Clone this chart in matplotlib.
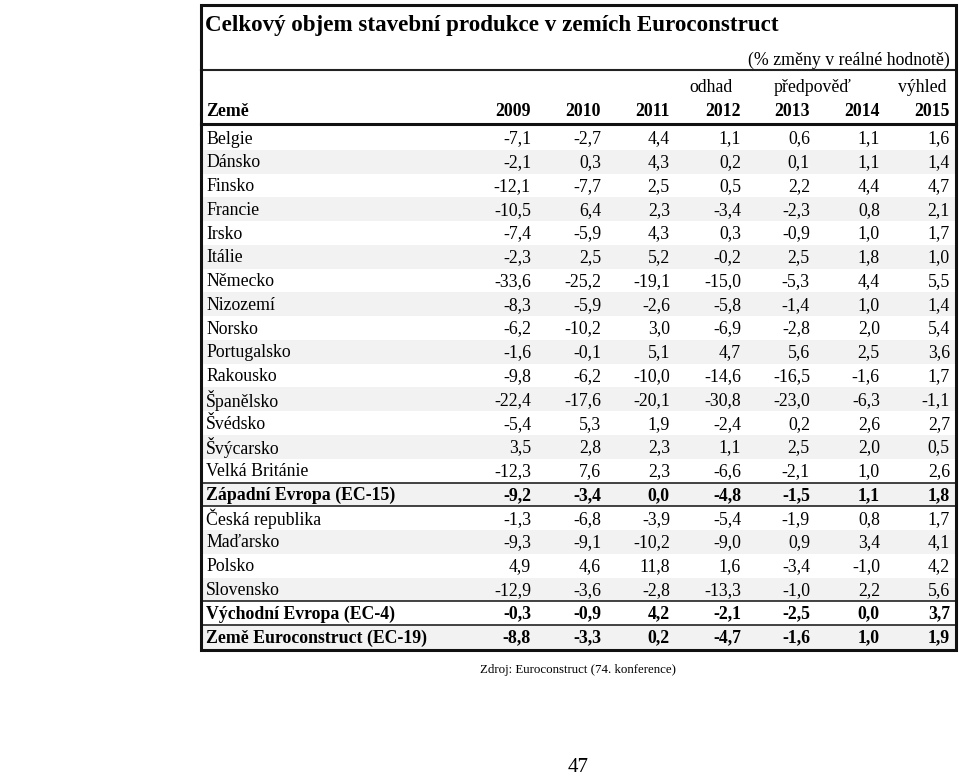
import matplotlib
matplotlib.use('Agg')
import matplotlib.pyplot as plt
from matplotlib.patches import Rectangle

plt.rcParams['font.family'] = ['Liberation Serif', 'DejaVu Serif']

# TABLE DATA
title = "Celkový objem stavební produkce v zemích Euroconstruct"
unit_note = "(% změny v reálné hodnotě)"
years = ['2009', '2010', '2011', '2012', '2013', '2014', '2015']
countries = ['Belgie', 'Dánsko', 'Finsko', 'Francie', 'Irsko', 'Itálie', 'Německo',
             'Nizozemí', 'Norsko', 'Portugalsko', 'Rakousko', 'Španělsko', 'Švédsko',
             'Švýcarsko', 'Velká Británie', 'Západní Evropa (EC-15)', 'Česká republika',
             'Maďarsko', 'Polsko', 'Slovensko', 'Východní Evropa (EC-4)',
             'Země Euroconstruct (EC-19)']
values = [
    [-7.1, -2.7, 4.4, 1.1, 0.6, 1.1, 1.6],
    [-2.1, 0.3, 4.3, 0.2, 0.1, 1.1, 1.4],
    [-12.1, -7.7, 2.5, 0.5, 2.2, 4.4, 4.7],
    [-10.5, 6.4, 2.3, -3.4, -2.3, 0.8, 2.1],
    [-7.4, -5.9, 4.3, 0.3, -0.9, 1.0, 1.7],
    [-2.3, 2.5, 5.2, -0.2, 2.5, 1.8, 1.0],
    [-33.6, -25.2, -19.1, -15.0, -5.3, 4.4, 5.5],
    [-8.3, -5.9, -2.6, -5.8, -1.4, 1.0, 1.4],
    [-6.2, -10.2, 3.0, -6.9, -2.8, 2.0, 5.4],
    [-1.6, -0.1, 5.1, 4.7, 5.6, 2.5, 3.6],
    [-9.8, -6.2, -10.0, -14.6, -16.5, -1.6, 1.7],
    [-22.4, -17.6, -20.1, -30.8, -23.0, -6.3, -1.1],
    [-5.4, 5.3, 1.9, -2.4, 0.2, 2.6, 2.7],
    [3.5, 2.8, 2.3, 1.1, 2.5, 2.0, 0.5],
    [-12.3, 7.6, 2.3, -6.6, -2.1, 1.0, 2.6],
    [-9.2, -3.4, 0.0, -4.8, -1.5, 1.1, 1.8],
    [-1.3, -6.8, -3.9, -5.4, -1.9, 0.8, 1.7],
    [-9.3, -9.1, -10.2, -9.0, 0.9, 3.4, 4.1],
    [4.9, 4.6, 11.8, 1.6, -3.4, -1.0, 4.2],
    [-12.9, -3.6, -2.8, -13.3, -1.0, 2.2, 5.6],
    [-0.3, -0.9, 4.2, -2.1, -2.5, 0.0, 3.7],
    [-8.8, -3.3, 0.2, -4.7, -1.6, 1.0, 1.9],
]
bold_rows = [15, 20, 21]
source = "Zdroj: Euroconstruct (74. konference)"
page_number = "47"

# LAYOUT (pixel coordinates)
W, H = 959, 776
LEFT, RIGHT, TOP, BOTTOM = 201, 956, 5, 650
col_right = [531, 601, 670, 741, 810, 880, 950]
row0 = 138
row_h = 23.76
FS = 12.8

fig = plt.figure(figsize=(W / 100, H / 100), dpi=100)
ax = fig.add_axes([0, 0, 1, 1])
ax.set_xlim(0, W)
ax.set_ylim(H, 0)
ax.axis('off')


def fmt(v):
    return '{:.1f}'.format(v).replace('.', ',')


# striped rows
for i, name in enumerate(countries):
    yc = row0 + i * row_h
    if i % 2 == 1:
        ax.add_patch(Rectangle((LEFT, yc - row_h / 2), RIGHT - LEFT, row_h,
                               facecolor='#f2f2f2', edgecolor='none', zorder=0))
    weight = 'bold' if i in bold_rows else 'normal'
    ax.text(206, yc + 1, name, ha='left', va='center', fontsize=FS, fontweight=weight)
    for j, v in enumerate(values[i]):
        ax.text(col_right[j], yc + 1, fmt(v), ha='right', va='center',
                fontsize=FS, fontweight=weight)

# title and header
ax.text(205, 26, title, ha='left', va='center', fontsize=16.6, fontweight='bold')
ax.text(950, 60, unit_note, ha='right', va='center', fontsize=FS)
ax.text(733, 88, 'odhad', ha='right', va='center', fontsize=FS)
ax.text(813, 88, 'předpověď', ha='center', va='center', fontsize=FS)
ax.text(947, 88, 'výhled', ha='right', va='center', fontsize=FS)
ax.text(206, 111, 'Země', ha='left', va='center', fontsize=FS, fontweight='bold')
for j, y in enumerate(years):
    ax.text(col_right[j], 111, y, ha='right', va='center', fontsize=FS, fontweight='bold')

# rules
ax.plot([LEFT, RIGHT], [70, 70], color='#222222', lw=1.5)
ax.plot([LEFT, RIGHT], [124, 124], color='#111111', lw=2.2)
for i in bold_rows:
    yc = row0 + i * row_h
    ax.plot([LEFT, RIGHT], [yc - row_h / 2, yc - row_h / 2], color='#222222', lw=1.2)
ax.plot([LEFT, RIGHT], [row0 + 15.5 * row_h] * 2, color='#222222', lw=1.2)
ax.add_patch(Rectangle((LEFT, TOP), RIGHT - LEFT, BOTTOM - TOP, facecolor='none',
                       edgecolor='#111111', lw=2.2, zorder=5))

ax.text(578, 670, source, ha='center', va='center', fontsize=9.3)
ax.text(578, 768, page_number, ha='center', va='center', fontsize=15)

fig.savefig('out.png', dpi=100)
